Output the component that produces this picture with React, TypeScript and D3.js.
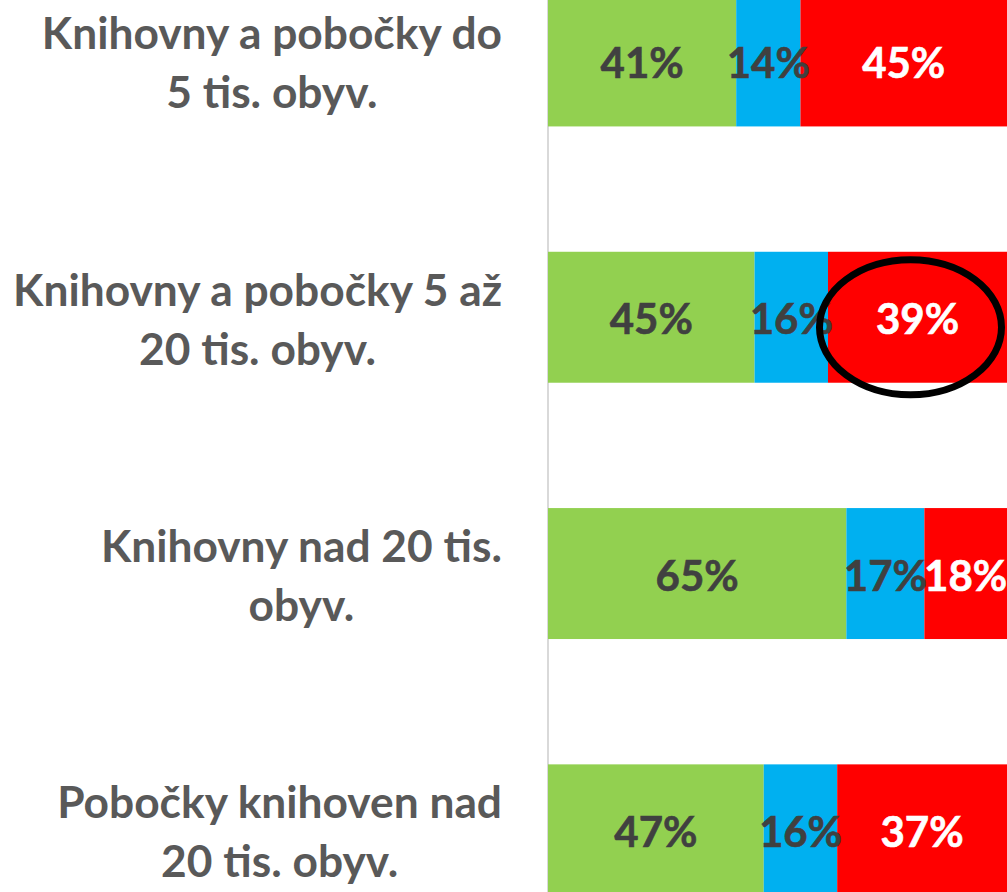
import React, { useEffect, useRef } from "react";
import * as d3 from "d3";

const categories = [
  "Knihovny a pobočky do\n5 tis. obyv.",
  "Knihovny a pobočky 5 až\n20 tis. obyv.",
  "Knihovny nad 20 tis.\nobyv.",
  "Pobočky knihoven nad\n20 tis. obyv.",
];
const seriesNames = ["A", "B", "C"];
const greenValues = [41, 45, 65, 47];
const blueValues = [14, 16, 17, 16];
const redValues = [45, 39, 18, 37];
const seriesColors = ["#92D050", "#00B0F0", "#FF0000"];
const labelColors = ["#404040", "#404040", "#FFFFFF"];
const highlightCategory = 1;
const highlightSeries = 2;

const W = 1007;
const H = 892;
const FONT = "Lato, 'Open Sans', sans-serif";

export default function App() {
  const ref = useRef<SVGSVGElement | null>(null);

  useEffect(() => {
    const svg = d3.select(ref.current);
    svg.selectAll("*").remove();

    const rows = categories.map((c, i) => ({
      cat: c,
      A: greenValues[i],
      B: blueValues[i],
      C: redValues[i],
    }));
    const stack = d3.stack<any>().keys(seriesNames);
    const stacked = stack(rows);

    const x = d3.scaleLinear().domain([0, 100]).range([548, 1007]);
    const y = d3
      .scaleBand<string>()
      .domain(categories)
      .range([-67.2, 958])
      .paddingInner(0.489)
      .paddingOuter(0.2445);

    // axis line
    svg
      .append("line")
      .attr("x1", x(0))
      .attr("x2", x(0))
      .attr("y1", 0)
      .attr("y2", H)
      .attr("stroke", "#D9D9D9")
      .attr("stroke-width", 2);

    stacked.forEach((s, si) => {
      const g = svg.append("g");
      g.selectAll("rect")
        .data(s)
        .join("rect")
        .attr("x", (d: any) => x(d[0]))
        .attr("width", (d: any) => x(d[1]) - x(d[0]))
        .attr("y", (d: any) => y(d.data.cat)!)
        .attr("height", y.bandwidth())
        .attr("fill", seriesColors[si]);
    });

    stacked.forEach((s, si) => {
      const g = svg.append("g");
      g.selectAll("text")
        .data(s)
        .join("text")
        .attr("x", (d: any) => (x(d[0]) + x(d[1])) / 2)
        .attr("y", (d: any) => y(d.data.cat)! + y.bandwidth() / 2 + 17)
        .attr("text-anchor", "middle")
        .attr("font-family", FONT)
        .attr("font-weight", 700)
        .attr("font-size", 42)
        .attr("fill", labelColors[si])
        .attr("stroke", labelColors[si])
        .attr("stroke-width", 0.6)
        .text((d: any) => `${d[1] - d[0]}%`);
    });

    // category labels
    const rightEdge = 502;
    const lineH = 59;
    categories.forEach((c) => {
      const lines = c.split("\n");
      const g = svg.append("g");
      const cy = y(c)! + y.bandwidth() / 2;
      const n = lines.length;
      lines.forEach((ln, li) => {
        g.append("text")
          .attr("x", 0)
          .attr("y", cy + (li - (n - 1) / 2) * lineH + 18)
          .attr("text-anchor", "middle")
          .attr("font-family", FONT)
          .attr("font-weight", 700)
          .attr("font-size", 44.3)
          .attr("fill", "#595959")
          .text(ln);
      });
      const bb = (g.node() as SVGGElement).getBBox();
      g.attr("transform", `translate(${rightEdge - (bb.x + bb.width)},0)`);
    });

    // highlight ellipse
    const hs = stacked[highlightSeries][highlightCategory] as any;
    const cx = (x(hs[0]) + x(hs[1])) / 2 - 7;
    const cyE = y(categories[highlightCategory])! + y.bandwidth() / 2 + 10;
    svg
      .append("ellipse")
      .attr("cx", cx)
      .attr("cy", cyE)
      .attr("rx", 91)
      .attr("ry", 67.5)
      .attr("fill", "none")
      .attr("stroke", "#000")
      .attr("stroke-width", 7);
  }, []);

  return (
    <svg
      ref={ref}
      width={W}
      height={H}
      style={{ position: "absolute", left: 0, top: 0, background: "#fff" }}
    />
  );
}
